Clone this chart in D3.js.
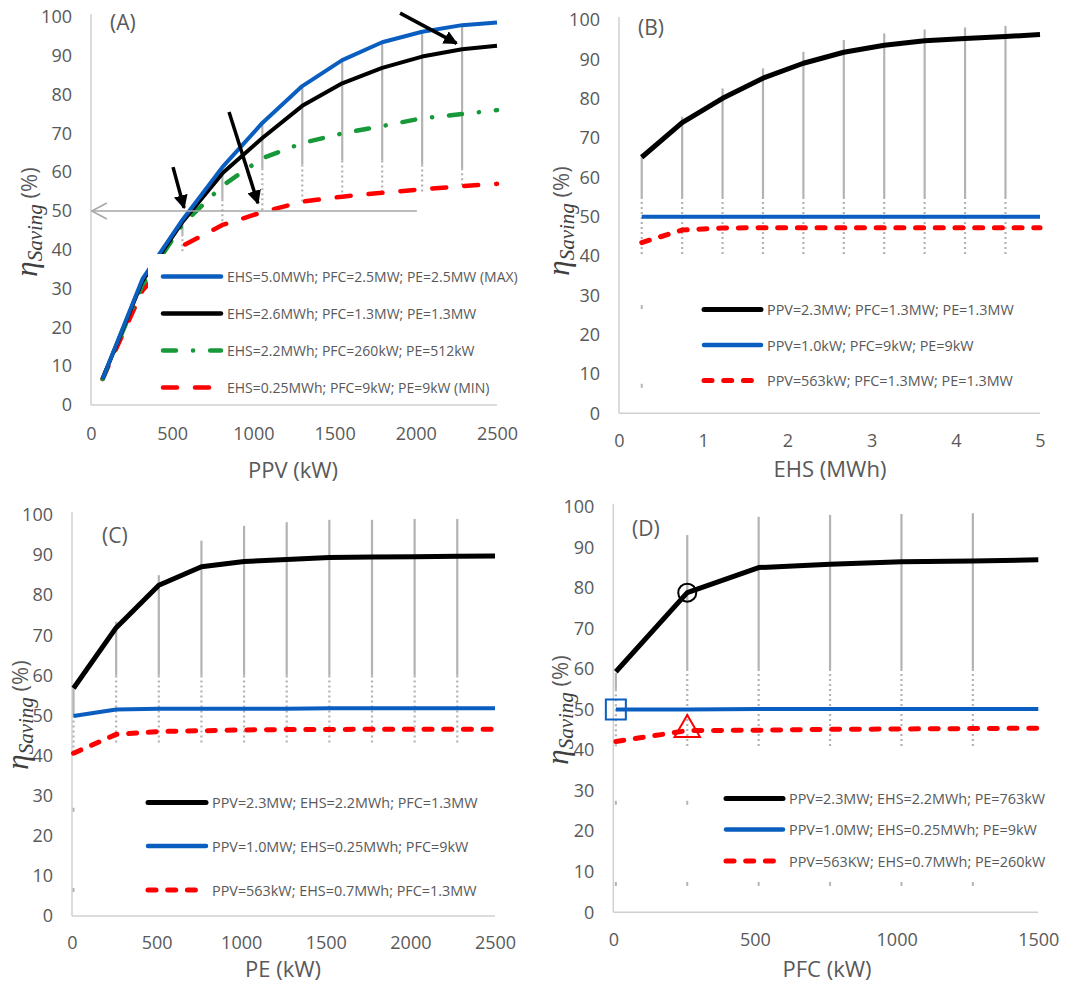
<!DOCTYPE html>
<html><head><meta charset="utf-8">
<script src="https://cdn.jsdelivr.net/npm/d3@7"></script>
<style>body{margin:0;background:#fff}svg{display:block}</style>
</head><body>
<svg id="c" width="1071" height="982"></svg>
<script>
// ---------------- DATA ----------------
const yTicks = [0,10,20,30,40,50,60,70,80,90,100];

// Panel A : PPV (kW)
const ppvA = [71,317,563,809,1055,1301,1547,1793,2039,2285,2500];
const aMax   = [6.7,32.5,47.7,61.3,72.7,82.2,88.9,93.5,96.2,97.9,98.6];
const aMid   = [6.7,32,47.2,59.7,68.8,77.1,82.9,86.9,89.8,91.7,92.6];
const aGreen = [6.7,31,46.5,56.5,63.6,67.5,70,71.9,73.9,75,76];
const aMin   = [6.7,29.5,41,46.4,49.7,52.4,53.7,54.7,55.6,56.4,57];
const aTicks = [0,500,1000,1500,2000,2500];
const aGrayX = [563,809,1055,1301,1547,1793,2039,2285];
const aGrayTop = [48,61,72.5,82,89,93.5,96.5,98];
const aGrayMid = [44,53,61,62,63,63,62,61];
const aGrayLow = [38,47,50,52,53,54,55,56];
const aLegend = ["EHS=5.0MWh; PFC=2.5MW; PE=2.5MW (MAX)","EHS=2.6MWh; PFC=1.3MW; PE=1.3MW","EHS=2.2MWh; PFC=260kW; PE=512kW","EHS=0.25MWh; PFC=9kW; PE=9kW (MIN)"];

// Panel B : EHS (MWh)
const ehsB = [0.27,0.75,1.23,1.71,2.19,2.67,3.15,3.63,4.11,4.59,5.0];
const bBlack = [65.1,73.9,80.1,85.2,89,91.8,93.6,94.7,95.3,95.8,96.3];
const bBlue  = [50,50,50,50,50,50,50,50,50,50,50];
const bRed   = [43.4,46.6,47.1,47.2,47.2,47.2,47.2,47.2,47.2,47.2,47.2];
const bTicks = [0,1,2,3,4,5];
const bGrayX = [0.27,0.75,1.23,1.71,2.19,2.67,3.15,3.63,4.11,4.59];
const bGrayTop = [66,75.4,82.6,87.7,91.9,94.9,96.6,97.6,98.1,98.5];
const bGrayMid = [55,55,55,55,55,55,55,55,55,55];
const bGrayLow = [40,40,40,40,40,40,40,40,40,40];
const bGrayDots = [[0.27,27],[0.27,7]];
const bLegend = ["PPV=2.3MW; PFC=1.3MW; PE=1.3MW","PPV=1.0kW; PFC=9kW; PE=9kW","PPV=563kW; PFC=1.3MW; PE=1.3MW"];

// Panel C : PE (kW)
const peC = [9,261,513,765,1017,1269,1521,1773,2025,2277,2500];
const cBlack = [56.8,71.9,82.5,87.1,88.4,88.9,89.4,89.5,89.6,89.7,89.8];
const cBlue  = [49.9,51.5,51.7,51.7,51.7,51.7,51.8,51.8,51.8,51.8,51.8];
const cRed   = [40.6,45.3,46,46.2,46.4,46.5,46.5,46.6,46.6,46.6,46.6];
const cTicks = [0,500,1000,1500,2000,2500];
const cGrayX = [9,261,513,765,1017,1269,1521,1773,2025,2277];
const cGrayTop = [57,73.4,85,93.6,97.3,98.2,98.8,98.8,99,99];
const cGrayMid = [50,60,60,60,60,60,60,60,60,60];
const cGrayLow = [40,43,43,43,43,43,43,43,43,43];
const cGrayDots = [[9,26.5],[9,6.5]];
const cLegend = ["PPV=2.3MW; EHS=2.2MWh; PFC=1.3MW","PPV=1.0MW; EHS=0.25MWh; PFC=9kW","PPV=563kW; EHS=0.7MWh; PFC=1.3MW"];

// Panel D : PFC (kW)
const pfcD = [9,261,513,765,1017,1269,1500];
const dBlack = [59.3,78.8,85,85.8,86.4,86.6,86.9];
const dBlue  = [50,50,50.1,50.1,50.1,50.1,50.1];
const dRed   = [42.1,44.8,44.9,45.1,45.2,45.3,45.4];
const dTicks = [0,500,1000,1500];
const dGrayX = [9,261,513,765,1017,1269];
const dGrayTop = [59,93,97.5,98,98.2,98.4];
const dGrayMid = [55,60,60,60,60,60];
const dGrayLow = [40.5,40.5,40.5,40.5,40.5,40.5];
const dGrayDots = [[9,27],[261,27],[9,7],[261,7],[513,7],[765,7],[1017,7],[1269,7]];
const dLegend = ["PPV=2.3MW; EHS=2.2MWh; PE=763kW","PPV=1.0MW; EHS=0.25MWh; PE=9kW","PPV=563KW; EHS=0.7MWh; PE=260kW"];

// ---------------- DRAW ----------------
const svg = d3.select("#c");
const TXT = "#595959", AX = "#d0d0d0", GRAY = "#b3b3b3";
const BLUE = "#0a5ebf", GREEN = "#17993a", RED = "#ff0000";
const FONT = "'Open Sans', sans-serif";

function panel(cfg){
  const g = svg.append("g");
  const x = d3.scaleLinear().domain(cfg.xd).range(cfg.xr);
  const y = d3.scaleLinear().domain([0,100]).range(cfg.yr);
  g.append("line").attr("x1",x(cfg.xd[0])).attr("x2",x(cfg.xd[0])).attr("y1",y(0)).attr("y2",y(100)-3)
    .attr("stroke",AX).attr("stroke-width",1.5);
  g.append("line").attr("x1",x(cfg.xd[0])).attr("x2",x(cfg.xd[1])).attr("y1",y(0)).attr("y2",y(0))
    .attr("stroke",AX).attr("stroke-width",1.5);
  const ya = d3.axisLeft(y).tickValues(yTicks).tickSize(0).tickPadding(19);
  const yg = g.append("g").attr("transform",`translate(${x(cfg.xd[0])},0)`).call(ya);
  yg.select(".domain").remove();
  yg.selectAll("text").attr("fill",TXT).style("font-family",FONT).style("font-size","18px");
  const xa = d3.axisBottom(x).tickValues(cfg.xTicks).tickSize(0).tickPadding(cfg.xPad).tickFormat(d3.format("d"));
  const xg = g.append("g").attr("transform",`translate(0,${y(0)})`).call(xa);
  xg.select(".domain").remove();
  xg.selectAll("text").attr("fill",TXT).style("font-family",FONT).style("font-size","18px");
  g.append("text").attr("x",cfg.titleX).attr("y",cfg.titleY).attr("text-anchor","middle")
    .attr("dominant-baseline","central").attr("fill",TXT).style("font-family",FONT).style("font-size","22px").text(cfg.xTitle);
  const yt = g.append("text").attr("transform",`translate(${cfg.ylabX},${cfg.ylabY}) rotate(-90)`)
    .attr("text-anchor","middle").attr("fill","#404040");
  yt.append("tspan").style("font-family","'Liberation Serif', serif").style("font-style","italic").style("font-size","31px").text("η");
  yt.append("tspan").style("font-family","'Liberation Serif', serif").style("font-style","italic").style("font-size","21px").attr("dy",5).text("Saving");
  yt.append("tspan").style("font-family",FONT).style("font-size","22px").attr("fill",TXT).attr("dy",-5).text(" (%)");
  g.append("text").attr("x",cfg.tagX).attr("y",cfg.tagY).attr("dominant-baseline","central").attr("fill",TXT)
    .style("font-family",FONT).style("font-size","21px").text(cfg.tag);
  cfg.grayX.forEach((gx,i)=>{
    g.append("line").attr("x1",x(gx)).attr("x2",x(gx)).attr("y1",y(cfg.grayTop[i])).attr("y2",y(cfg.grayMid[i]))
      .attr("stroke",GRAY).attr("stroke-width",2.2);
    g.append("line").attr("x1",x(gx)).attr("x2",x(gx)).attr("y1",y(cfg.grayMid[i])).attr("y2",y(cfg.grayLow[i]))
      .attr("stroke",GRAY).attr("stroke-width",2.2).attr("stroke-dasharray","2,3");
  });
  (cfg.grayDots||[]).forEach(d=>{
    g.append("line").attr("x1",x(d[0])).attr("x2",x(d[0])).attr("y1",y(d[1])-2).attr("y2",y(d[1])+2)
      .attr("stroke",GRAY).attr("stroke-width",2);
  });
  const line = d3.line().x(d=>x(d[0])).y(d=>y(d[1]));
  cfg.series.forEach(s=>{
    const pts = cfg.xs.map((v,i)=>[v,s.v[i]]);
    g.append("path").attr("d",line(pts)).attr("fill","none").attr("stroke",s.c).attr("stroke-width",s.w)
      .attr("stroke-dasharray",s.dash||null).attr("stroke-linecap",s.cap||"butt").attr("stroke-linejoin","round");
  });
  return {g,x,y};
}

function legend(g, items, lx1, lx2, ys, fs){
  items.forEach((it,i)=>{
    g.append("line").attr("x1",lx1).attr("x2",lx2).attr("y1",ys[i]).attr("y2",ys[i])
      .attr("stroke",it.c).attr("stroke-width",it.w).attr("stroke-linecap","round").attr("stroke-dasharray",it.dash||null);
    g.append("text").attr("x",lx2+6).attr("y",ys[i]).attr("dominant-baseline","central").attr("fill",TXT)
      .style("font-family",FONT).style("font-size",(fs||14.4)+"px").text(it.t);
  });
}

// Panel A
const A = panel({xd:[0,2500], xr:[91,497], yr:[405,17], xTicks:aTicks, xPad:22, xTitle:"PPV (kW)", titleX:293, titleY:469,
  ylabX:37, ylabY:222, tag:"(A)", tagX:110, tagY:22,
  grayX:aGrayX, grayTop:aGrayTop, grayMid:aGrayMid, grayLow:aGrayLow,
  xs:ppvA, series:[
    {v:aMin, c:RED, w:4.5, dash:"14,18", cap:"round"},
    {v:aGreen, c:GREEN, w:4.5, dash:"13,17,0.1,17", cap:"round"},
    {v:aMid, c:"#000", w:4},
    {v:aMax, c:BLUE, w:4}
  ]});
const defs = svg.append("defs");
defs.append("marker").attr("id","ah").attr("viewBox","0 0 10 10").attr("refX",9).attr("refY",5)
  .attr("markerWidth",4).attr("markerHeight",4).attr("orient","auto")
  .append("path").attr("d","M0,0 L10,5 L0,10 z").attr("fill","#000");
const arrowsA = [[1903,101,2251,93.2],[850,75.5,1028,52],[505,61.3,573,50.8]];
arrowsA.forEach(a=>{
  A.g.append("line").attr("x1",A.x(a[0])).attr("y1",A.y(a[1])).attr("x2",A.x(a[2])).attr("y2",A.y(a[3]))
    .attr("stroke","#000").attr("stroke-width",3.5).attr("marker-end","url(#ah)");
});
A.g.append("line").attr("x1",A.x(2007)).attr("x2",A.x(5)).attr("y1",A.y(50)).attr("y2",A.y(50)).attr("stroke","#a6a6a6").attr("stroke-width",1.5);
A.g.append("path").attr("d",`M${A.x(5)+15},${A.y(50)-8} L${A.x(5)},${A.y(50)} L${A.x(5)+15},${A.y(50)+8}`)
  .attr("fill","none").attr("stroke","#a6a6a6").attr("stroke-width",1.5);
A.g.append("rect").attr("x",148).attr("y",254).attr("width",390).attr("height",149).attr("fill","#fff");
legend(A.g,[
  {c:BLUE,w:4.5,t:aLegend[0]},
  {c:"#000",w:4.5,t:aLegend[1]},
  {c:GREEN,w:4.5,dash:"13,17,0.1,17",t:aLegend[2]},
  {c:RED,w:4.5,dash:"14,18",t:aLegend[3]}
],163,221,[276.5,313.5,350.5,387.5],14);

// Panel B
const B = panel({xd:[0,5], xr:[619,1040], yr:[413.3,20], xTicks:bTicks, xPad:21, xTitle:"EHS (MWh)", titleX:830, titleY:468,
  ylabX:569, ylabY:221, tag:"(B)", tagX:638, tagY:27,
  grayX:bGrayX, grayTop:bGrayTop, grayMid:bGrayMid, grayLow:bGrayLow, grayDots:bGrayDots,
  xs:ehsB, series:[
    {v:bBlue, c:BLUE, w:4},
    {v:bRed, c:RED, w:5, dash:"8,11.7", cap:"round"},
    {v:bBlack, c:"#000", w:5}
  ]});
legend(B.g,[
  {c:"#000",w:5,t:bLegend[0]},
  {c:BLUE,w:4.5,t:bLegend[1]},
  {c:RED,w:5,dash:"8,11.7",t:bLegend[2]}
],704,761,[309.5,345,380.5]);

// Panel C
const C = panel({xd:[0,2500], xr:[72,495], yr:[916,515], xTicks:cTicks, xPad:20, xTitle:"PE (kW)", titleX:283, titleY:968,
  ylabX:28, ylabY:715, tag:"(C)", tagX:102, tagY:535,
  grayX:cGrayX, grayTop:cGrayTop, grayMid:cGrayMid, grayLow:cGrayLow, grayDots:cGrayDots,
  xs:peC, series:[
    {v:cBlue, c:BLUE, w:4},
    {v:cRed, c:RED, w:5, dash:"8,11.7", cap:"round"},
    {v:cBlack, c:"#000", w:5}
  ]});
legend(C.g,[
  {c:"#000",w:5,t:cLegend[0]},
  {c:BLUE,w:4.5,t:cLegend[1]},
  {c:RED,w:5,dash:"8,11.7",t:cLegend[2]}
],148,206,[802.5,846,890]);

// Panel D
const D = panel({xd:[0,1500], xr:[613.3,1038.3], yr:[912.3,506.7], xTicks:dTicks, xPad:21, xTitle:"PFC (kW)", titleX:827, titleY:968,
  ylabX:568, ylabY:710, tag:"(D)", tagX:632, tagY:528,
  grayX:dGrayX, grayTop:dGrayTop, grayMid:dGrayMid, grayLow:dGrayLow, grayDots:dGrayDots,
  xs:pfcD, series:[
    {v:dBlue, c:BLUE, w:4},
    {v:dRed, c:RED, w:5, dash:"8,11.7", cap:"round"},
    {v:dBlack, c:"#000", w:5}
  ]});
D.g.append("circle").attr("cx",D.x(pfcD[1])).attr("cy",D.y(dBlack[1])).attr("r",9).attr("fill","none").attr("stroke","#000").attr("stroke-width",2);
D.g.append("rect").attr("x",D.x(pfcD[0])-10).attr("y",D.y(dBlue[0])-10).attr("width",20).attr("height",20).attr("fill","none").attr("stroke",BLUE).attr("stroke-width",2);
D.g.append("path").attr("d",d3.symbol(d3.symbolTriangle,280)()).attr("transform",`translate(${D.x(pfcD[1])},${D.y(dRed[1])-1})`)
  .attr("fill","none").attr("stroke",RED).attr("stroke-width",2);
legend(D.g,[
  {c:"#000",w:5,t:dLegend[0]},
  {c:BLUE,w:4.5,t:dLegend[1]},
  {c:RED,w:5,dash:"8,11.7",t:dLegend[2]}
],726,783,[798.5,829.5,861]);
</script>
</body></html>
